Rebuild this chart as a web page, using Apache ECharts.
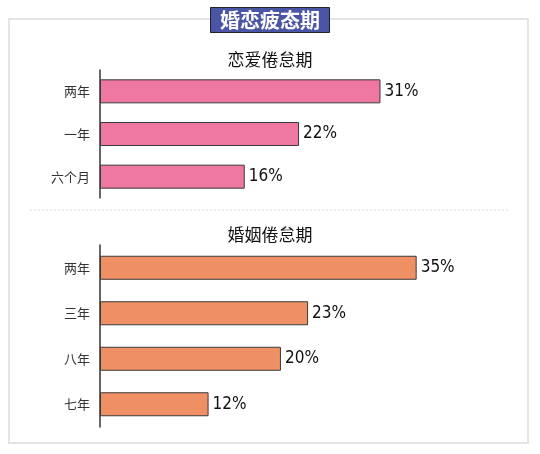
<!DOCTYPE html>
<html><head><meta charset="utf-8">
<script src="https://cdn.jsdelivr.net/npm/echarts@6/dist/echarts.min.js"></script>
<style>html,body{margin:0;padding:0;background:#fff}#c{width:540px;height:454px}</style>
</head><body><div id="c"></div>
<script>
var mainTitle = '婚恋疲态期';
var loveTitle = '恋爱倦怠期';
var loveCats = ['两年', '一年', '六个月'];
var loveVals = [31, 22, 16];
var marriageTitle = '婚姻倦怠期';
var marriageCats = ['两年', '三年', '八年', '七年'];
var marriageVals = [35, 23, 20, 12];

var chart = echarts.init(document.getElementById('c'), null, {renderer: 'canvas'});
var valueFont = '"Liberation Sans Narrow", "DejaVu Sans Condensed", "Liberation Sans", sans-serif';
var cjk = '"Noto Sans CJK SC", sans-serif';

function yAx(idx, cats) {
  return {
    type: 'category', gridIndex: idx, data: cats, inverse: true,
    axisLine: {show: true, lineStyle: {color: '#333', width: 1.5}},
    axisTick: {show: false},
    axisLabel: {color: '#333', fontSize: 13, fontFamily: cjk, margin: 10}
  };
}
function xAx(idx) {
  return {type: 'value', gridIndex: idx, min: 0, max: 42, show: false};
}
function bar(idx, vals, color) {
  return {
    type: 'bar', xAxisIndex: idx, yAxisIndex: idx, data: vals, barWidth: 24,
    itemStyle: {color: color, borderColor: '#3a3a3a', borderWidth: 1},
    label: {show: true, position: 'right', distance: 4, formatter: '{c}%',
      color: '#111', fontSize: 17, fontFamily: valueFont},
    silent: true
  };
}

chart.setOption({
  animation: false,
  title: [
    {text: mainTitle, left: 'center', top: 7, z: 10,
     backgroundColor: '#4a55a6', borderColor: '#222', borderWidth: 1,
     padding: [3, 10, 3, 10],
     textStyle: {color: '#fff', fontSize: 20, fontWeight: 'bold', fontFamily: cjk, lineHeight: 20}},
    {text: loveTitle, left: 'center', top: 46,
     textStyle: {color: '#111', fontSize: 17, fontWeight: 'normal', fontFamily: cjk}},
    {text: marriageTitle, left: 'center', top: 221,
     textStyle: {color: '#111', fontSize: 17, fontWeight: 'normal', fontFamily: cjk}}
  ],
  graphic: [
    {type: 'rect', z: 0, shape: {x: 9, y: 19, width: 519, height: 424},
     style: {fill: 'none', stroke: '#e4e4e4', lineWidth: 2}},
    {type: 'line', z: 0, shape: {x1: 30, y1: 210, x2: 510, y2: 210},
     style: {stroke: '#dddddd', lineWidth: 1, lineDash: [2, 2]}}
  ],
  grid: [
    {left: 100, width: 380, top: 70, height: 128},
    {left: 100, width: 380, top: 245, height: 182}
  ],
  xAxis: [xAx(0), xAx(1)],
  yAxis: [yAx(0, loveCats), yAx(1, marriageCats)],
  series: [bar(0, loveVals, '#ef78a2'), bar(1, marriageVals, '#ef9064')]
});
</script>
</body></html>
